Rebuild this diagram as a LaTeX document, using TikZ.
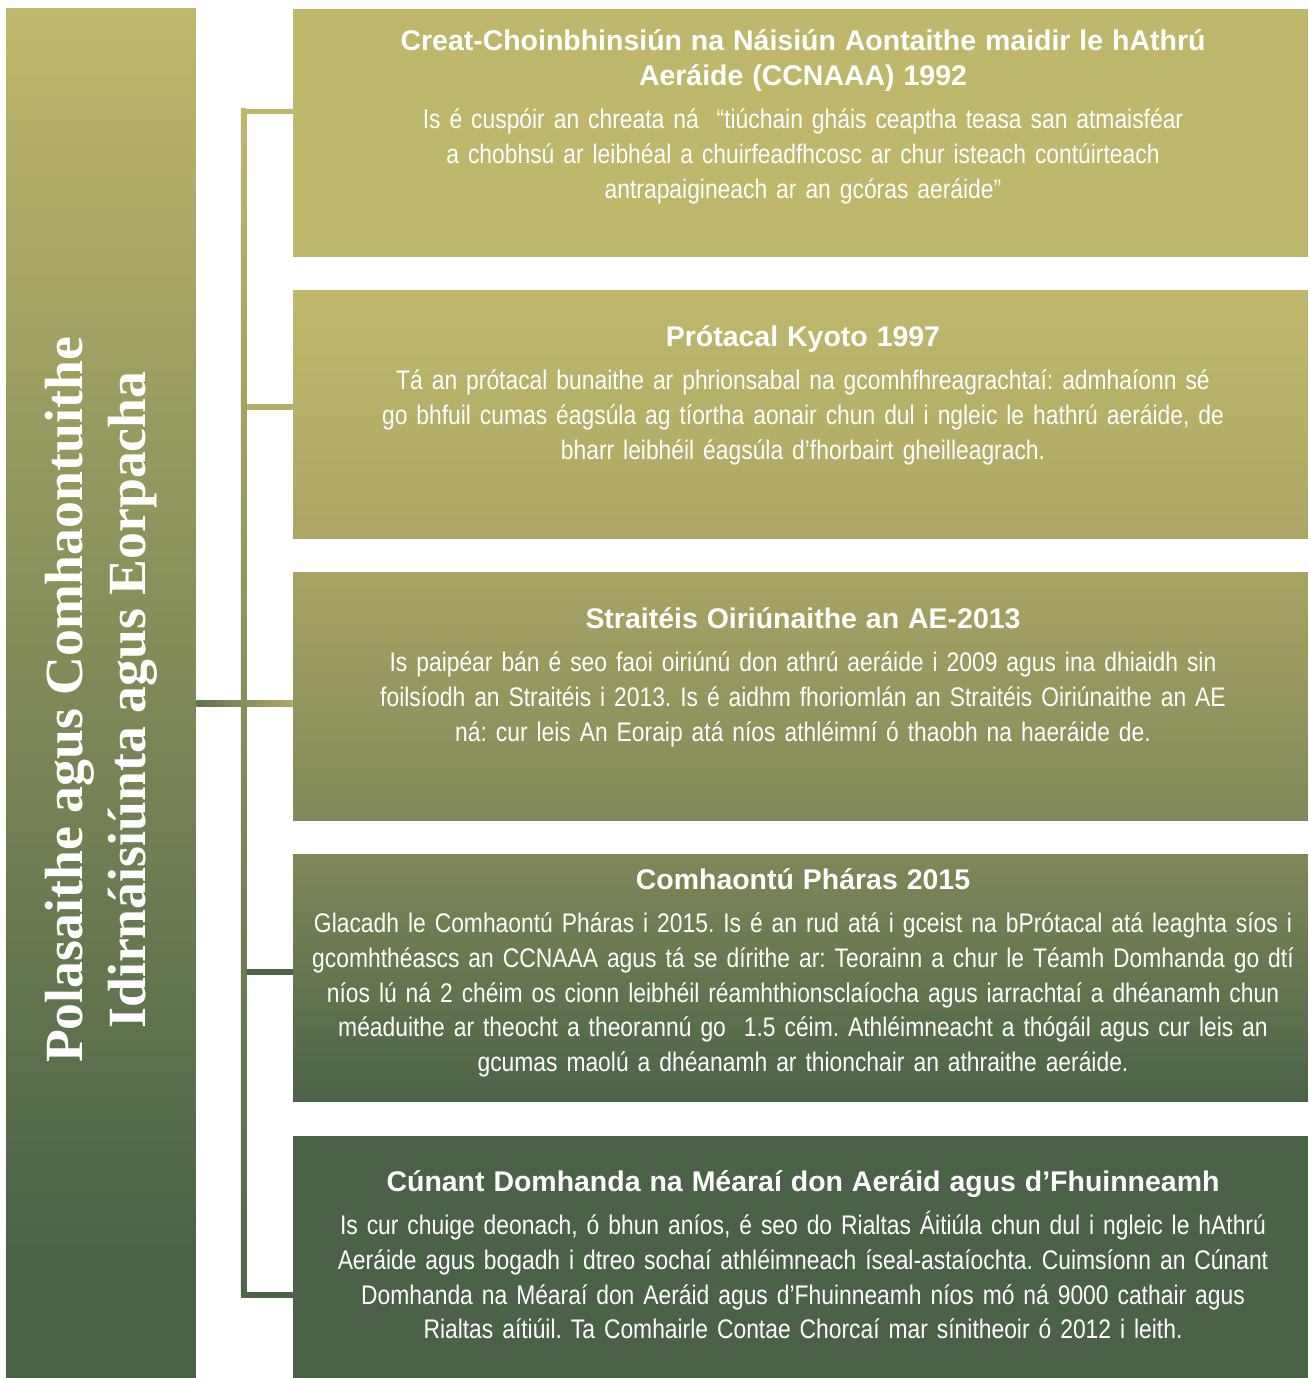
\documentclass[tikz,border=0pt]{standalone}
\usepackage{fontspec}
\setmainfont{Liberation Sans}
\newfontfamily\bodyfont[FakeStretch=0.85]{Liberation Sans}
\newfontfamily\sidefont{Liberation Serif}
\usetikzlibrary{calc}
\definecolor{gold}{HTML}{C0B86C}
\definecolor{moss}{HTML}{4A6347}
\definecolor{boxone}{HTML}{BFB76B}
\definecolor{twobot}{HTML}{ACA765}
\definecolor{threetop}{HTML}{A9A463}
\definecolor{threebot}{HTML}{808959}
\definecolor{fourtop}{HTML}{7F8859}
\definecolor{fourbot}{HTML}{4B6347}
\definecolor{brtwo}{HTML}{B3AD69}
\definecolor{brdark}{HTML}{4E6449}
\definecolor{midleft}{HTML}{5E7350}
\definecolor{midright}{HTML}{B0AA68}
\definecolor{trunkbot}{HTML}{50664A}
\pgfdeclareverticalshading{barshade}{100bp}{color(0bp)=(moss); color(29.7bp)=(moss); color(75bp)=(gold); color(100bp)=(gold)}
\tikzset{
  box/.style={minimum width=20.3cm,minimum height=4.96cm,inner sep=0pt,draw=none},
  info/.style={text=white,text width=21cm,align=center,inner sep=0pt,anchor=base,
    font=\fontsize{15.3}{19.85}\bodyfont\frenchspacing},
  branch/.style={line width=3.1pt}
}
\newcommand{\hd}[1]{{\fontsize{16.2}{19.85}\selectfont\rmfamily\bfseries #1}}

\begin{document}
\begin{tikzpicture}[x=0.02cm,y=-0.02cm]
    \useasboundingbox (0,0) rectangle (1308,1378);
    \node[box,minimum width=3.8cm,minimum height=27.4cm,shading=barshade] (pol) at (101,693) {};
    \node[rotate=90,text=white,align=center,inner sep=0pt,font={\fontsize{30.6}{35.7}\sidefont\bfseries}] (side) at (101,700)
      {Polasaithe agus Comhaontuithe\\Idirnáisiúnta agus Eorpacha};
    \node[box,fill=boxone] (b1) at (800.5,133) {};
    \node[box,top color=gold,bottom color=twobot] (b2) at (800.5,414.5) {};
    \node[box,top color=threetop,bottom color=threebot] (b3) at (800.5,696.5) {};
    \node[box,top color=fourtop,bottom color=fourbot] (b4) at (800.5,978) {};
    \node[box,minimum height=4.84cm,fill=moss] (b5) at (800.5,1257) {};
    \coordinate (j1) at (243.5,111.5);
    \coordinate (j2) at (243.5,407);
    \coordinate (j3) at (243.5,703.5);
    \coordinate (j4) at (243.5,972);
    \coordinate (j5) at (243.5,1295);
    \draw[branch,color=boxone] (j1) -- (j1 -| b1.west);
    \draw[branch,color=brtwo] (j2) -- (j2 -| b2.west);
    \draw[branch,color=brdark] (j4) -- (j4 -| b4.west);
    \draw[branch,color=brdark] (j5) -- (j5 -| b5.west);
    \shade[left color=midleft,right color=midright] ($(pol.east |- j3)+(0,-2.75)$) rectangle ($(j3 -| b3.west)+(0,2.75)$);
    \shade[top color=boxone,bottom color=trunkbot] ($(j1)+(-2.75,-2.75)$) rectangle ($(j5)+(2.75,2.75)$);
    \node[info] (t1) at (803,50.5) {\hd{Creat-Choinbhinsiún na Náisiún Aontaithe maidir le hAthrú\\Aeráide (CCNAAA) 1992}\\[4.8pt]
      Is é cuspóir an chreata ná\ \ “tiúchain gháis ceaptha teasa san atmaisféar\\
      a chobhsú ar leibhéal a chuirfeadfhcosc ar chur isteach contúirteach\\
      antrapaigineach ar an gcóras aeráide”};
    \node[info] (t2) at (803,346) {\hd{Prótacal Kyoto 1997}\\[4.8pt]
      Tá an prótacal bunaithe ar phrionsabal na gcomhfhreagrachtaí: admhaíonn sé\\
      go bhfuil cumas éagsúla ag tíortha aonair chun dul i ngleic le hathrú aeráide, de\\
      bharr leibhéil éagsúla d’fhorbairt gheilleagrach.};
    \node[info] (t3) at (803,628) {\hd{Straitéis Oiriúnaithe an AE-2013}\\[4.8pt]
      Is paipéar bán é seo faoi oiriúnú don athrú aeráide i 2009 agus ina dhiaidh sin\\
      foilsíodh an Straitéis i 2013. Is é aidhm fhoriomlán an Straitéis Oiriúnaithe an AE\\
      ná: cur leis An Eoraip atá níos athléimní ó thaobh na haeráide de.};
    \node[info] (t4) at (803,889) {\hd{Comhaontú Pháras 2015}\\[4.8pt]
      Glacadh le Comhaontú Pháras i 2015. Is é an rud atá i gceist na bPrótacal atá leaghta síos i\\
      gcomhthéascs an CCNAAA agus tá se dírithe ar: Teorainn a chur le Téamh Domhanda go dtí\\
      níos lú ná 2 chéim os cionn leibhéil réamhthionsclaíocha agus iarrachtaí a dhéanamh chun\\
      méaduithe ar theocht a theorannú go\ \ 1.5 céim. Athléimneacht a thógáil agus cur leis an\\
      gcumas maolú a dhéanamh ar thionchair an athraithe aeráide.};
    \node[info] (t5) at (803,1191) {\hd{Cúnant Domhanda na Méaraí don Aeráid agus d’Fhuinneamh}\\[4.8pt]
      Is cur chuige deonach, ó bhun aníos, é seo do Rialtas Áitiúla chun dul i ngleic le hAthrú\\
      Aeráide agus bogadh i dtreo sochaí athléimneach íseal-astaíochta. Cuimsíonn an Cúnant\\
      Domhanda na Méaraí don Aeráid agus d’Fhuinneamh níos mó ná 9000 cathair agus\\
      Rialtas aítiúil. Ta Comhairle Contae Chorcaí mar sínitheoir ó 2012 i leith.};
\end{tikzpicture}
\end{document}
